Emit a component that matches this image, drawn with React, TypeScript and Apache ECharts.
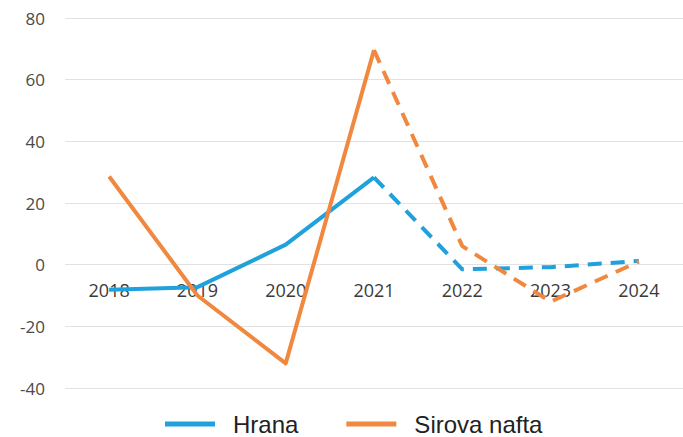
import React, { useEffect, useRef } from "react";
import * as echarts from "echarts";

const years = ["2018", "2019", "2020", "2021", "2022", "2023", "2024"];
const hranaActual = [-8.1, -7.3, 6.5, 28.3, null, null, null];
const hranaForecast = [null, null, null, 28.3, -1.5, -0.8, 1.2];
const naftaActual = [28.6, -10, -32, 69.6, null, null, null];
const naftaForecast = [null, null, null, 69.6, 6, -12, 1];
const yTicks = { min: -40, max: 80, interval: 20 };

const BLUE = "#20a1dc";
const ORANGE = "#f0883f";

export default function App() {
  const ref = useRef<HTMLDivElement>(null);
  useEffect(() => {
    if (!ref.current) return;
    const chart = echarts.init(ref.current, null, { renderer: "svg" });
    const lineSeries = (name: string, data: (number | null)[], color: string, dashed: boolean) => ({
      name,
      type: "line",
      data,
      symbol: "none",
      connectNulls: false,
      lineStyle: { color, width: 4, type: dashed ? [14, 9] : "solid", cap: "butt", join: "round" },
      itemStyle: { color },
    });
    const gridTop = 18;
    const gridHeight = 370;
    // distance from the grid's bottom to the value 0 line, so x labels sit on the zero line
    const zeroOffset = (gridHeight * (0 - yTicks.min)) / (yTicks.max - yTicks.min);
    chart.setOption({
      animation: false,
      backgroundColor: "#ffffff",
      grid: { left: 65, top: gridTop, width: 625, height: gridHeight },
      legend: {
        data: ["Hrana", "Sirova nafta"],
        top: 407,
        left: 160,
        icon: "rect",
        itemWidth: 50,
        itemHeight: 5,
        itemGap: 48,
        textStyle: { fontSize: 24, color: "#222", fontFamily: "Liberation Sans, Arial, sans-serif", padding: [0, 0, 0, 13] },
      },
      xAxis: {
        type: "category",
        data: years,
        boundaryGap: true,
        offset: -zeroOffset,
        axisLine: { show: false, onZero: false },
        axisTick: { show: false },
        axisLabel: { fontSize: 18, color: "#3a3a3a", margin: 16, fontFamily: "Open Sans, sans-serif" },
        splitLine: { show: false },
      },
      yAxis: {
        type: "value",
        min: yTicks.min,
        max: yTicks.max,
        interval: yTicks.interval,
        axisLine: { show: false },
        axisTick: { show: false },
        axisLabel: { fontSize: 17, color: "#4a4a4a", margin: 20, fontFamily: "Open Sans, sans-serif" },
        splitLine: { lineStyle: { color: "#e2e2e2", width: 1 } },
      },
      series: [
        lineSeries("Hrana", hranaActual, BLUE, false),
        lineSeries("Hrana prognoza", hranaForecast, BLUE, true),
        lineSeries("Sirova nafta", naftaActual, ORANGE, false),
        lineSeries("Sirova nafta prognoza", naftaForecast, ORANGE, true),
      ],
    });
    return () => chart.dispose();
  }, []);
  return (
    <div
      ref={ref}
      style={{ position: "absolute", left: 0, top: 0, width: 683, height: 437 }}
    />
  );
}
